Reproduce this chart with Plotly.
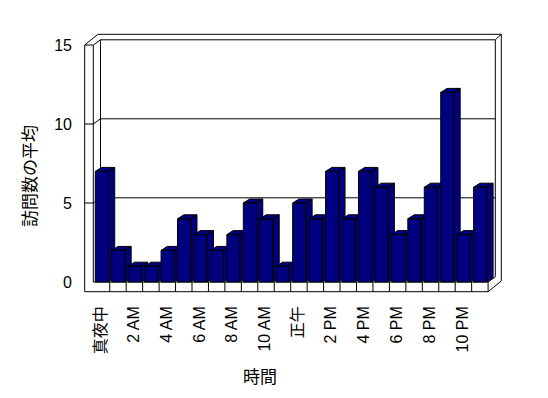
import plotly.graph_objects as go

# ---- data ----
categories = ["真夜中", "1 AM", "2 AM", "3 AM", "4 AM", "5 AM", "6 AM", "7 AM",
              "8 AM", "9 AM", "10 AM", "11 AM", "正午", "1 PM", "2 PM", "3 PM",
              "4 PM", "5 PM", "6 PM", "7 PM", "8 PM", "9 PM", "10 PM", "11 PM"]
values = [7, 2, 1, 1, 2, 4, 3, 2, 3, 5, 4, 1, 5, 4, 7, 4, 7, 6, 3, 4, 6, 12, 3, 6]
tick_labels = categories[::2]
y_ticks = [0, 5, 10, 15]
x_title = "時間"
y_title = "訪問数の平均"

# ---- geometry (pixel layout of the pseudo-3D box) ----
PAGE_OFF = 8                   # browser body margin
W, H = 548 - PAGE_OFF, 398 - PAGE_OFF
SX, SY = 16.45, 15.8           # px per category / per value unit
OX, OY = 93.3 - PAGE_OFF, 282.0 - PAGE_OFF   # front-plane origin in px
L, R, T, B = 78 - PAGE_OFF, 506 - PAGE_OFF, 28 - PAGE_OFF, 298 - PAGE_OFF
N = len(categories)
YMAX = y_ticks[-1]

ddx, ddy = 7.2 / SX, 5.2 / SY     # depth of floor (front -> back wall)
tdx, tdy = 6.0 / SX, 5.5 / SY     # back-wall thickness
lw = 8.6 / SX                     # left wall thickness (front face)
fl = 9.7 / SY                     # floor thickness
bx0, bw = 0.12, 0.80              # bar front face offset / width
bdx, bdy = 6.3 / SX, 4.0 / SY     # bar depth

x_range = [(L - OX) / SX, (R - OX) / SX]
y_range = [(OY - B) / SY, (OY - T) / SY]

fig = go.Figure()

# ---- frame (walls & floor) ----
segs = []
def seg(a, b):
    segs.append((a, b))

# left wall front face
seg((-lw, -fl), (-lw, YMAX))
seg((0, 0), (0, YMAX))
seg((-lw, YMAX), (0, YMAX))
seg((0, YMAX), (ddx, YMAX + ddy))
seg((-lw, YMAX), (-lw + ddx + tdx, YMAX + ddy + tdy))
# gridlines / ticks
for v in y_ticks[1:-1]:
    seg((-lw, v), (0, v))
    seg((0, v), (ddx, v + ddy))
    seg((ddx, v + ddy), (N + ddx, v + ddy))
# back wall
seg((ddx, ddy), (ddx, YMAX + ddy))
seg((ddx, YMAX + ddy), (N + ddx, YMAX + ddy))
seg((N + ddx, ddy), (N + ddx, YMAX + ddy))
seg((-lw + ddx + tdx, YMAX + ddy + tdy), (N + ddx + tdx, YMAX + ddy + tdy))
seg((N + ddx, YMAX + ddy), (N + ddx + tdx, YMAX + ddy + tdy))
seg((N + ddx + tdx, YMAX + ddy + tdy), (N + ddx + tdx, -fl + ddy + tdy))
# floor
seg((0, 0), (N, 0))
seg((-lw, -fl), (N, -fl))
seg((N, -fl), (N, 0))
for i in range(1, N):
    seg((i, -fl), (i, 0))
seg((N, 0), (N + ddx, ddy))
seg((N, -fl), (N + ddx + tdx, -fl + ddy + tdy))

fx, fy = [], []
for a, b in segs:
    fx += [a[0], b[0], None]
    fy += [a[1], b[1], None]
fig.add_trace(go.Scatter(x=fx, y=fy, mode="lines",
                         line=dict(color="black", width=1),
                         hoverinfo="skip", showlegend=False))

# ---- 3D bars ----
for i, (cat, v) in enumerate(zip(categories, values)):
    x0 = i + bx0
    x1 = x0 + bw
    xs = [x0, x1, x1, x0, x0, None,
          x0, x1, x1 + bdx, x0 + bdx, x0, None,
          x1, x1 + bdx, x1 + bdx, x1, x1]
    ys = [0, 0, v, v, 0, None,
          v, v, v + bdy, v + bdy, v, None,
          0, bdy, v + bdy, v, 0]
    fig.add_trace(go.Scatter(x=xs, y=ys, mode="lines", fill="toself",
                             fillcolor="#000080",
                             line=dict(color="black", width=1),
                             name=cat, hoverinfo="skip", showlegend=False))

font_family = "Liberation Sans, Arial, Noto Sans CJK JP, sans-serif"

fig.update_layout(
    width=W, height=H,
    margin=dict(l=L, r=W - R, t=T, b=H - B),
    paper_bgcolor="white", plot_bgcolor="white",
    showlegend=False,
    font=dict(family=font_family, size=16, color="black"),
    xaxis=dict(range=x_range, showgrid=False, zeroline=False, showline=False,
               tickmode="array",
               tickvals=[i + 0.45 for i in range(0, N, 2)],
               ticktext=tick_labels, tickangle=-90, ticks="",
               ticklabelstandoff=4,
               tickfont=dict(size=16, color="black")),
    yaxis=dict(range=y_range, showgrid=False, zeroline=False, showline=False,
               tickmode="array", tickvals=y_ticks,
               ticktext=[str(t) for t in y_ticks], ticks="",
               ticklabelstandoff=5,
               tickfont=dict(size=16, color="black")),
    annotations=[
        dict(text=x_title, x=(260 - PAGE_OFF - L) / (R - L),
             y=(B - (375 - PAGE_OFF)) / (B - T),
             xref="paper", yref="paper", showarrow=False,
             xanchor="center", yanchor="middle",
             font=dict(family="Noto Sans CJK JP", size=17, color="black")),
        dict(text=y_title, x=(28 - PAGE_OFF - L) / (R - L),
             y=(B - (176 - PAGE_OFF)) / (B - T),
             xref="paper", yref="paper", showarrow=False, textangle=-90,
             xanchor="center", yanchor="middle",
             font=dict(family="Noto Sans CJK JP", size=17, color="black")),
    ],
)

fig.write_html("out.html")
